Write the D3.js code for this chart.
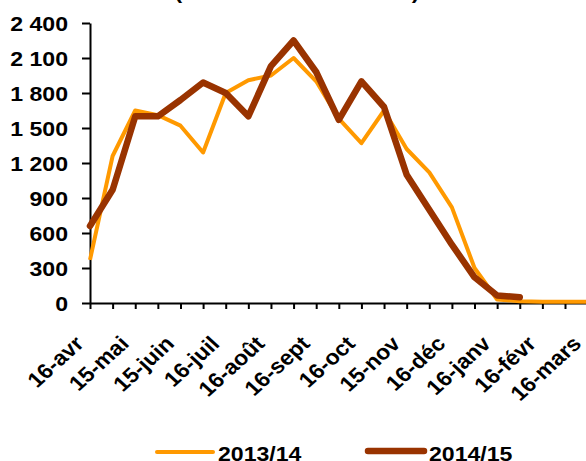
<!DOCTYPE html>
<html>
<head>
<meta charset="utf-8">
<script src="https://cdn.jsdelivr.net/npm/d3@7"></script>
<style>
  body { margin: 0; background: #fff; }
  text { font-family: "Liberation Sans", Arial, sans-serif; font-weight: bold; fill: #000; }
</style>
</head>
<body>
<div id="vis"></div>
<script>
//data----
const periods = ["16-avr","1-mai","15-mai","1-juin","15-juin","1-juil","16-juil","1-août",
    "16-août","1-sept","16-sept","1-oct","16-oct","1-nov","15-nov","1-déc",
    "16-déc","1-janv","16-janv","1-févr","16-févr","1-mars","16-mars","1-avr"]
const season1 = [370,1260,1650,1610,1520,1290,1800,1910,1950,2100,1900,1580,
    1370,1650,1320,1120,820,300,30,15,10,10,10,10]
const season2 = [660,970,1600,1600,1740,1890,1800,1600,2030,2250,1980,1570,
    1900,1680,1100,800,500,220,65,50]
const seriesNames = ["2013/14", "2014/15"]
const yTicks = [0,300,600,900,1200,1500,1800,2100,2400]
const titleText = "(en milliers de tonnes)"

//dimensions---
let dimensions = {
    width: 586,
    height: 461,
    left: 90,
    top: 23,
    bottom: 303,
}
const stretch = 1.1

const wrapper = d3.select("#vis")
    .append("svg")
    .attr("width", dimensions.width)
    .attr("height", dimensions.height)

//scales------
const xScale = d3.scaleLinear()
    .domain([0, 21])
    .range([dimensions.left, 565])

const yScale = d3.scaleLinear()
    .domain([0, 2400])
    .range([dimensions.bottom, dimensions.top])

const fr = d3.formatLocale({decimal: ",", thousands: " ", grouping: [3], currency: ["", " €"]})

//title (cut at top of picture)
wrapper.append("text")
    .attr("transform", `translate(297,-1.5) scale(${stretch},1)`)
    .attr("text-anchor", "middle")
    .style("font-size", "21px")
    .text(titleText)

//axes-------
const yAxis = wrapper.append("g")
    .attr("transform", `translate(${dimensions.left},0)`)
    .call(d3.axisLeft(yScale)
        .tickValues(yTicks)
        .tickFormat(fr.format(",d"))
        .tickSize(8)
        .tickSizeOuter(0))
yAxis.select(".domain").attr("stroke-width", 2)
yAxis.selectAll(".tick line").attr("stroke-width", 2)
yAxis.selectAll(".tick text")
    .attr("x", -22 / stretch)
    .attr("dy", "0.36em")
    .attr("transform", `scale(${stretch},1)`)
    .style("font-size", "21px")
    .style("font-family", "'Liberation Sans', Arial, sans-serif")

const xAxis = wrapper.append("g")
    .attr("transform", `translate(0,${dimensions.bottom})`)
    .call(d3.axisBottom(xScale.copy().domain([0, 23]).range([xScale(0), xScale(23)]))
        .tickValues(d3.range(0, periods.length))
        .tickFormat("")
        .tickSize(6)
        .tickSizeOuter(0))
xAxis.select(".domain").attr("stroke-width", 2)
xAxis.selectAll(".tick line").attr("stroke-width", 2)

//rotated category labels, every other period
wrapper.append("g")
    .selectAll("text")
    .data(periods.map((p, i) => ({p, i})).filter(d => d.i % 2 === 0))
    .join("text")
    .attr("transform", d => `translate(${xScale(d.i) - 5},${dimensions.bottom + 42}) scale(${stretch},1) rotate(-45)`)
    .attr("text-anchor", "end")
    .style("font-size", "21px")
    .text(d => d.p)

//lines------
const line = d3.line()
    .x((d, i) => xScale(i))
    .y(d => yScale(d))

wrapper.append("path")
    .datum(season1)
    .attr("d", line)
    .attr("fill", "none")
    .attr("stroke", "#ff9900")
    .attr("stroke-width", 4)
    .attr("stroke-linejoin", "round")

wrapper.append("path")
    .datum(season2)
    .attr("d", line)
    .attr("fill", "none")
    .attr("stroke", "#993300")
    .attr("stroke-width", 6.5)
    .attr("stroke-linejoin", "round")
    .attr("stroke-linecap", "round")

//legend-----
const legend = [
    {name: seriesNames[0], color: "#ff9900", w: 4, x: 157, y: 452},
    {name: seriesNames[1], color: "#993300", w: 6.5, x: 368, y: 451},
]
const lg = wrapper.append("g")
    .selectAll("g")
    .data(legend)
    .join("g")
lg.append("line")
    .attr("x1", d => d.x)
    .attr("x2", d => d.x + 56)
    .attr("y1", d => d.y)
    .attr("y2", d => d.y)
    .attr("stroke", d => d.color)
    .attr("stroke-width", d => d.w)
    .attr("stroke-linecap", "round")
lg.append("text")
    .attr("transform", d => `translate(${d.x + 61},461) scale(${stretch},1)`)
    .style("font-size", "21px")
    .text(d => d.name)
</script>
</body>
</html>
